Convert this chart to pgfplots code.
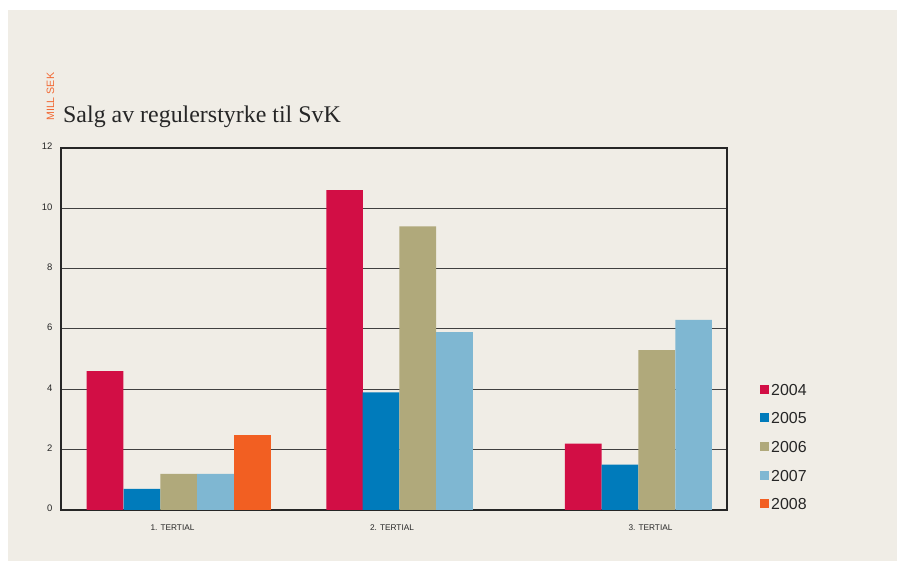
\documentclass[border=0pt]{standalone}
\usepackage{fontspec}
\setmainfont{Liberation Serif}
\setsansfont{Liberation Sans}
\usepackage{pgfplots}
\pgfplotsset{compat=1.18}
\definecolor{bg}{HTML}{F0EDE6}
\definecolor{c04}{HTML}{D20E45}
\definecolor{c05}{HTML}{007BBB}
\definecolor{c06}{HTML}{B0A97B}
\definecolor{c07}{HTML}{7FB7D2}
\definecolor{c08}{HTML}{F25F22}
\definecolor{millsek}{HTML}{F26A35}
\definecolor{txt}{HTML}{262626}
\begin{document}
\begin{tikzpicture}
\fill[white] (0bp,0bp) rectangle (897bp,561bp);
\fill[bg] (8bp,0bp) rectangle (897bp,551bp);
\useasboundingbox (0bp,0bp) rectangle (897bp,561bp);
\node[anchor=base west, inner sep=0pt, text=txt, font=\fontsize{24}{24}\selectfont] at (63bp,438.3bp) {Salg av regulerstyrke til SvK};
\node[anchor=base west, inner sep=0pt, rotate=90, text=millsek, font=\sffamily\fontsize{10.7}{10.7}\selectfont] at (54bp,440bp) {MILL SEK};
\begin{axis}[
  at={(61bp,51bp)}, anchor=south west,
  scale only axis, width=666bp, height=362bp,
  xmin=61, xmax=727, ymin=0, ymax=12,
  ytick={0,2,...,12},
  xtick={172.5,392,650.5},
  xticklabels={1. TERTIAL,2. TERTIAL,3. TERTIAL},
  major tick length=0pt,
  ymajorgrids,
  major grid style={draw=black!75, line width=1bp},
  axis line style={draw=black!85, line width=1.1bp},
  /pgf/number format/assume math mode=true,
  yticklabel style={font=\sffamily\fontsize{9.5}{9.5}\selectfont, text=txt, anchor=east, inner sep=0pt, xshift=-8.5bp, yshift=1.5bp},
  xticklabel style={font=\sffamily\fontsize{8.3}{8.3}\selectfont, text=txt, anchor=center, inner sep=0pt, yshift=-17.5bp},
  every axis plot/.append style={ybar, bar width=36.7, bar shift=0pt, draw=none,
     legend image code/.code={\fill[##1] (0bp,-3.25bp) rectangle (9bp,5.75bp);}},
  legend style={at={(1.0495,0.3481)}, anchor=north west, draw=none, fill=none,
     font=\sffamily\fontsize{16}{16}\selectfont, text=txt, row sep=16bp, column sep=2bp,
     inner sep=0pt, nodes={inner sep=0pt}},
  legend cell align=left,
]
\addplot[fill=c04] coordinates {(105,4.6) (344.6,10.6) (583.3,2.2)};
\addplot[fill=c05] coordinates {(142,0.7) (381,3.9) (620,1.5)};
\addplot[fill=c06] coordinates {(178.7,1.2) (417.7,9.4) (656.8,5.3)};
\addplot[fill=c07] coordinates {(215.5,1.2) (454.5,5.9) (693.6,6.3)};
\addplot[fill=c08] coordinates {(252.3,2.5)};
\legend{2004,2005,2006,2007,2008}
\end{axis}
\end{tikzpicture}
\end{document}
